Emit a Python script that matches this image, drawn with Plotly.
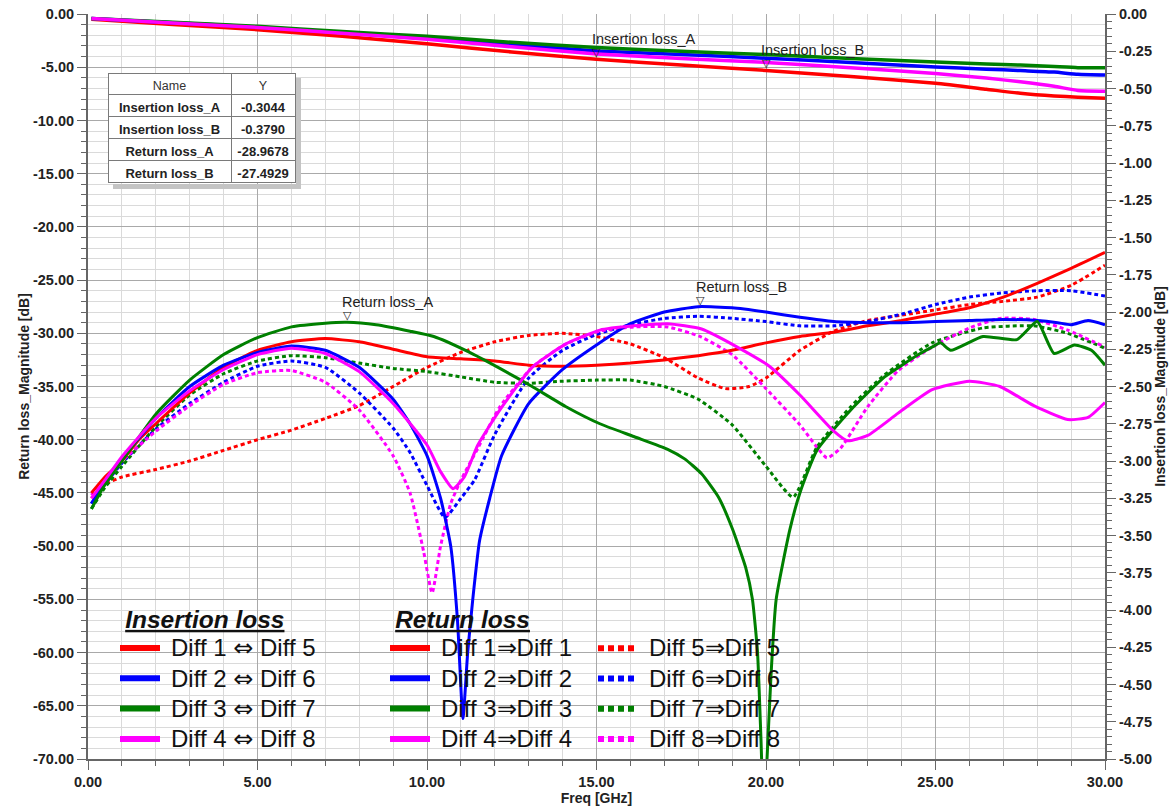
import plotly.graph_objects as go

# ---------------- data ----------------
# Insertion loss (right axis, dB)
il_freq = [0.1, 2.5, 5, 7.5, 10, 12.5, 15, 17.5, 20, 22.5, 25, 26.5, 27.5, 28.5, 29.2, 30]
il_15 = [-0.035, -0.07, -0.105, -0.15, -0.20, -0.255, -0.3044, -0.343, -0.379, -0.42, -0.465, -0.505, -0.532, -0.55, -0.558, -0.565]
il_26 = [-0.03, -0.058, -0.087, -0.125, -0.16, -0.205, -0.248, -0.272, -0.297, -0.325, -0.355, -0.37, -0.38, -0.39, -0.405, -0.41]
il_37 = [-0.03, -0.055, -0.083, -0.118, -0.15, -0.19, -0.225, -0.25, -0.272, -0.298, -0.322, -0.335, -0.343, -0.353, -0.36, -0.36]
il_48 = [-0.03, -0.06, -0.09, -0.13, -0.17, -0.22, -0.268, -0.298, -0.325, -0.36, -0.40, -0.43, -0.455, -0.485, -0.513, -0.518]

# Return loss (left axis, dB)
rl11_f = [0.1, 0.5, 1, 1.5, 2, 3, 4, 5, 6, 7, 8, 9, 10, 11, 12, 13, 14, 15, 16, 17, 18, 19, 20, 21, 22, 23, 24, 25, 26, 27, 28, 29, 30]
rl11_v = [-45.0, -43.5, -42.0, -40.0, -38.5, -35.6, -33.2, -31.6, -30.8, -30.5, -30.8, -31.5, -32.2, -32.4, -32.6, -33.0, -33.1, -33.0, -32.8, -32.5, -32.1, -31.6, -30.9, -30.3, -29.9, -29.3, -28.8, -28.2, -27.6, -26.6, -25.3, -23.9, -22.4]

rl55_f = [0.1, 0.5, 1, 2, 3, 4, 5, 6, 7, 8, 9, 10, 11, 12, 13, 14, 15, 16, 17, 18, 18.8, 19.5, 20, 21, 22, 23, 24, 25, 26, 27, 28, 29, 30]
rl55_v = [-45.5, -44.2, -43.5, -42.8, -42.0, -41.0, -40.0, -39.1, -38.0, -36.8, -35.0, -33.2, -31.8, -30.8, -30.2, -30.0, -30.3, -31.0, -32.3, -34.2, -35.2, -35.0, -34.2, -31.6, -29.8, -28.8, -28.3, -27.8, -27.3, -27.0, -26.6, -25.5, -23.6]

rl22_f = [0.1, 0.5, 1, 2, 3, 4, 5, 6, 7, 8, 9, 9.5, 10, 10.4, 10.7, 10.9, 11.06, 11.2, 11.35, 11.55, 11.85, 12.2, 13, 14, 15, 16, 17, 18, 19, 20, 21, 22, 23, 24, 25, 26, 27, 28, 28.6, 29, 29.5, 30]
rl22_v = [-46.0, -44.0, -41.8, -38.0, -35.0, -33.0, -31.8, -31.2, -31.6, -33.2, -36.2, -38.5, -41.5, -45.5, -50.0, -57.0, -66.2, -60.0, -55.0, -49.5, -45.5, -41.5, -36.6, -33.4, -31.1, -29.1, -28.0, -27.5, -27.6, -28.0, -28.5, -28.9, -29.0, -29.0, -28.9, -28.8, -28.7, -28.8, -29.0, -29.2, -28.8, -29.2]

rl66_f = [0.1, 0.5, 1, 2, 3, 4, 5, 6, 7, 8, 9, 9.5, 10, 10.53, 11, 11.4, 12, 13, 14, 15, 16, 17, 18, 19, 20, 21, 22, 23, 24, 25, 26, 27, 28, 29, 30]
rl66_v = [-46.0, -44.2, -42.2, -39.0, -36.6, -34.6, -33.1, -32.6, -33.2, -35.6, -38.9, -41.2, -44.3, -47.3, -45.5, -43.8, -39.5, -34.2, -31.6, -30.1, -29.2, -28.6, -28.4, -28.6, -28.9, -29.3, -29.3, -28.9, -28.2, -27.3, -26.6, -26.2, -26.0, -26.0, -26.5]

rl33_f = [0.1, 0.5, 1, 2, 3, 4, 5, 6, 7, 7.64, 8.5, 9.5, 10.2, 11.2, 12.15, 13.1, 14.1, 15.1, 16.1, 17.1, 17.6, 18.1, 18.6, 19.0, 19.4, 19.6, 19.75, 19.85, 19.93, 20.03, 20.15, 20.3, 20.7, 21.0, 21.5, 22.5, 23.5, 24.5, 24.95, 25.15, 25.45, 26.4, 27.4, 28.0, 28.5, 29.1, 29.6, 30]
rl33_v = [-46.5, -44.2, -42.0, -37.6, -34.4, -32.0, -30.4, -29.4, -29.05, -28.9678, -29.2, -29.8, -30.3, -31.7, -33.3, -35.0, -36.9, -38.5, -39.7, -40.9, -41.8, -43.2, -45.4, -48.3, -52.0, -55.0, -60.0, -68.0, -75.0, -70.0, -62.0, -55.0, -48.5, -45.0, -41.0, -37.2, -34.1, -32.0, -31.2, -30.9, -31.6, -30.3, -30.6, -28.9, -31.9, -31.1, -31.6, -33.0]

rl77_f = [0.1, 0.5, 1, 2, 3, 4, 5, 6, 7, 8, 9, 10, 11, 12, 13, 14, 15, 16, 17, 18, 19, 20, 20.8, 21.5, 22.5, 23.5, 24.9, 26.4, 27.9, 28.9, 30]
rl77_v = [-46.5, -44.5, -42.5, -38.8, -35.8, -33.8, -32.6, -32.1, -32.3, -32.8, -33.3, -33.6, -34.1, -34.6, -34.7, -34.5, -34.4, -34.4, -35.0, -36.2, -38.6, -42.5, -45.4, -40.7, -36.9, -33.9, -30.9, -29.5, -29.3, -30.0, -31.4]

rl44_f = [0.1, 0.5, 1, 2, 3, 4, 5, 6, 7, 8, 9, 10, 10.4, 10.77, 11.1, 11.5, 12.15, 13.1, 14.1, 15.1, 16.1, 17.1, 18.1, 19.1, 20.1, 21, 22, 22.4, 23, 23.9, 24.9, 26, 26.9, 27.9, 28.9, 29.5, 30]
rl44_v = [-45.5, -43.8, -41.6, -38.0, -35.4, -33.4, -32.0, -31.4, -31.9, -33.6, -36.6, -40.5, -43.0, -44.6, -43.5, -40.5, -37.2, -33.2, -31.0, -29.7, -29.3, -29.1, -29.6, -31.2, -33.1, -35.8, -39.2, -40.1, -39.6, -37.5, -35.3, -34.5, -35.0, -36.8, -38.1, -37.9, -36.5]

rl88_f = [0.1, 0.5, 1, 2, 3, 4, 5, 6, 7, 8, 9, 9.5, 9.9, 10.15, 10.4, 10.7, 11.0, 11.5, 12.15, 13.1, 14.1, 15.1, 16.1, 17.1, 18.05, 19, 20, 21, 21.8, 22.2, 23, 23.9, 24.9, 26, 26.9, 27.9, 28.9, 30]
rl88_v = [-45.2, -43.6, -42.0, -39.2, -36.8, -34.8, -33.7, -33.5, -34.6, -37.2, -41.5, -45.0, -50.5, -54.4, -50.0, -46.0, -43.8, -40.8, -36.9, -33.2, -31.0, -29.8, -29.4, -29.4, -30.3, -32.0, -35.2, -38.6, -41.7, -40.8, -36.9, -33.5, -31.3, -29.5, -28.6, -28.7, -29.7, -31.3]

il_names = ["Diff 1 \u21d4 Diff 5", "Diff 2 \u21d4 Diff 6", "Diff 3 \u21d4 Diff 7", "Diff 4 \u21d4 Diff 8"]
rl_solid_names = ["Diff 1\u21d2Diff 1", "Diff 2\u21d2Diff 2", "Diff 3\u21d2Diff 3", "Diff 4\u21d2Diff 4"]
rl_dot_names = ["Diff 5\u21d2Diff 5", "Diff 6\u21d2Diff 6", "Diff 7\u21d2Diff 7", "Diff 8\u21d2Diff 8"]

marker_names = ["Insertion loss_A", "Insertion loss_B", "Return loss_A", "Return loss_B"]
marker_freq = [15.0, 20.0, 7.64, 18.08]
marker_vals = [-0.3044, -0.3790, -28.9678, -27.4929]
marker_axis = ["y2", "y2", "y", "y"]

x_ticks = [0, 5, 10, 15, 20, 25, 30]
y_ticks = [0, -5, -10, -15, -20, -25, -30, -35, -40, -45, -50, -55, -60, -65, -70]
y2_ticks = [0, -0.25, -0.5, -0.75, -1.0, -1.25, -1.5, -1.75, -2.0, -2.25, -2.5, -2.75, -3.0, -3.25,
            -3.5, -3.75, -4.0, -4.25, -4.5, -4.75, -5.0]

# ---------------- style ----------------
colors = ["#ff0000", "#0000ff", "#008000", "#ff00ff"]
FONT = "Liberation Sans, Arial, sans-serif"
W, H = 1170, 809
ML, MR, MT, MB = 88, 65, 14, 50
PW, PH = W - ML - MR, H - MT - MB


def px_x(px):
    return (px - ML) / PW


def px_y(py):
    return (H - MB - py) / PH


fig = go.Figure()

il_sets = [il_15, il_26, il_37, il_48]
for name, vals, c in zip(il_names, il_sets, colors):
    fig.add_trace(go.Scatter(x=il_freq, y=vals, yaxis="y2", mode="lines", name=name,
                             line=dict(color=c, width=3.5, shape="spline", smoothing=0.5),
                             showlegend=False))

solid_sets = [(rl11_f, rl11_v), (rl22_f, rl22_v), (rl33_f, rl33_v), (rl44_f, rl44_v)]
dot_sets = [(rl55_f, rl55_v), (rl66_f, rl66_v), (rl77_f, rl77_v), (rl88_f, rl88_v)]
for name, (f, v), c in zip(rl_dot_names, dot_sets, colors):
    fig.add_trace(go.Scatter(x=f, y=v, mode="lines", name=name,
                             line=dict(color=c, width=3, dash="4px,3px", shape="spline", smoothing=0.5),
                             showlegend=False))
for name, (f, v), c in zip(rl_solid_names, solid_sets, colors):
    fig.add_trace(go.Scatter(x=f, y=v, mode="lines", name=name,
                             line=dict(color=c, width=3, shape="spline", smoothing=0.5),
                             showlegend=False))


# legend entries (thicker samples)
def span(t):
    t = t.replace("\u21d4", "<span style='font-family:DejaVu Sans'>\u21d4</span>")
    return "<span style='font-size:24px'>\u2005" + t + "</span>"


for name, c in zip(il_names, colors):
    fig.add_trace(go.Scatter(x=[None], y=[None], mode="lines", name=span(name), legend="legend",
                             line=dict(color=c, width=6)))
for name, c in zip(rl_solid_names, colors):
    fig.add_trace(go.Scatter(x=[None], y=[None], mode="lines", name=span(name), legend="legend2",
                             line=dict(color=c, width=6)))
for name, c in zip(rl_dot_names, colors):
    fig.add_trace(go.Scatter(x=[None], y=[None], mode="lines", name=span(name), legend="legend3",
                             line=dict(color=c, width=6, dash="6px,4px")))

# marker table
TBL_L, TBL_R, TBL_T, TBL_B = 108, 295, 73, 183
tbl_x = [px_x(TBL_L), px_x(TBL_R)]
tbl_y = [px_y(TBL_B), px_y(TBL_T)]
fig.add_trace(go.Table(
    domain=dict(x=tbl_x, y=tbl_y),
    columnwidth=[123, 64],
    header=dict(values=["Name", "Y"], height=21, align="center",
                fill_color="white", line_color="#7a7a7a",
                font=dict(family=FONT, size=12.5, color="#333")),
    cells=dict(values=[marker_names, [f"{v:.4f}" for v in marker_vals]], height=22,
               align="center", fill_color="white", line_color="#7a7a7a",
               font=dict(family=FONT, size=13, color="#222", weight="bold")),
))

# table drop shadow
SH = 5
shapes = [
    dict(type="rect", xref="paper", yref="paper", layer="above", line=dict(width=0), fillcolor="#c4c4c4",
         x0=px_x(TBL_R + 1), x1=px_x(TBL_R + 1 + SH), y0=px_y(TBL_B + 1 + SH), y1=px_y(TBL_T + SH)),
    dict(type="rect", xref="paper", yref="paper", layer="above", line=dict(width=0), fillcolor="#c4c4c4",
         x0=px_x(TBL_L + SH), x1=px_x(TBL_R + 1), y0=px_y(TBL_B + 1 + SH), y1=px_y(TBL_B + 1)),
]

annotations = []
for n, f, v, ax in zip(marker_names, marker_freq, marker_vals, marker_axis):
    annotations.append(dict(x=f, y=v, xref="x", yref=ax, text="\u25bd", showarrow=False,
                            xanchor="center", yanchor="bottom", yshift=-2,
                            font=dict(family="DejaVu Sans", size=11, color="#222")))
    annotations.append(dict(x=f, y=v, xref="x", yref=ax, text=n, showarrow=False,
                            xanchor="left", yanchor="bottom", xshift=-7, yshift=10,
                            font=dict(family=FONT, size=14.5, color="#222")))

tickfont = dict(family=FONT, size=14.5, color="#222", weight="bold")
major_grid = "#a9a9a9"
minor_grid = "#dadada"
axcol = "#666666"

leg_common = dict(bgcolor="rgba(0,0,0,0)", borderwidth=0, font=dict(family=FONT, size=21, color="#111"),
                  xanchor="left", yanchor="top", itemwidth=40, tracegroupgap=0,
                  itemclick=False, itemdoubleclick=False)

fig.update_layout(
    width=W, height=H,
    margin=dict(l=ML, r=MR, t=MT, b=MB, autoexpand=False),
    paper_bgcolor="white", plot_bgcolor="white",
    font=dict(family=FONT, color="#222"),
    xaxis=dict(range=[0, 30], tickmode="array", tickvals=x_ticks, ticktext=[f"{t:.2f}" for t in x_ticks],
               showgrid=True, gridcolor=major_grid, gridwidth=1, zeroline=False,
               ticks="outside", ticklen=9, tickcolor=axcol, tickwidth=1,
               minor=dict(tickmode="linear", tick0=0, dtick=1, showgrid=True, gridcolor=minor_grid,
                          ticks="outside", ticklen=5, tickcolor=axcol),
               showline=True, linecolor=axcol, linewidth=2, tickfont=tickfont,
               title=dict(text="Freq [GHz]", font=dict(family=FONT, size=14, weight="bold", color="#222"),
                          standoff=4), automargin=False),
    yaxis=dict(range=[-70, 0], tickmode="array", tickvals=y_ticks, ticktext=[f"{t:.2f}" for t in y_ticks],
               showgrid=True, gridcolor=major_grid, gridwidth=1, zeroline=False,
               ticks="outside", ticklen=9, tickcolor=axcol,
               minor=dict(tickmode="linear", tick0=0, dtick=1, showgrid=True, gridcolor=minor_grid,
                          ticks="outside", ticklen=5, tickcolor=axcol),
               showline=True, linecolor=axcol, linewidth=2, tickfont=tickfont,
               title=dict(text="Return loss_Magnitude [dB]",
                          font=dict(family=FONT, size=14, weight="bold", color="#222"), standoff=0),
               automargin=False),
    yaxis2=dict(range=[-5, 0], overlaying="y", side="right", anchor="x",
                tickmode="array", tickvals=y2_ticks, ticktext=[f"{t:.2f}" for t in y2_ticks],
                showgrid=False, zeroline=False, ticks="outside", ticklen=9, tickcolor=axcol,
                minor=dict(tickmode="linear", tick0=0, dtick=0.05, ticks="outside", ticklen=5,
                           tickcolor=axcol, showgrid=False),
                showline=True, linecolor=axcol, linewidth=2, tickfont=tickfont,
                title=dict(text="Insertion loss_Magnitude [dB]",
                           font=dict(family=FONT, size=14, weight="bold", color="#222"), standoff=2),
                automargin=False),
    legend=dict(leg_common, x=px_x(115), y=px_y(596),
                title=dict(text="<b><i>\u2004<u>Insertion loss</u></i></b>",
                           font=dict(family=FONT, size=24.5, color="#111"))),
    legend2=dict(leg_common, x=px_x(385), y=px_y(596),
                 title=dict(text="<b><i>\u2004<u>Return loss</u></i></b>",
                            font=dict(family=FONT, size=24.5, color="#111"))),
    legend3=dict(leg_common, x=px_x(593), y=px_y(628)),
    annotations=annotations,
    shapes=shapes,
    showlegend=True,
)

fig.write_html("out.html", config={"displayModeBar": False},
               post_script="document.body.style.margin='0';document.body.style.overflow='hidden';")
